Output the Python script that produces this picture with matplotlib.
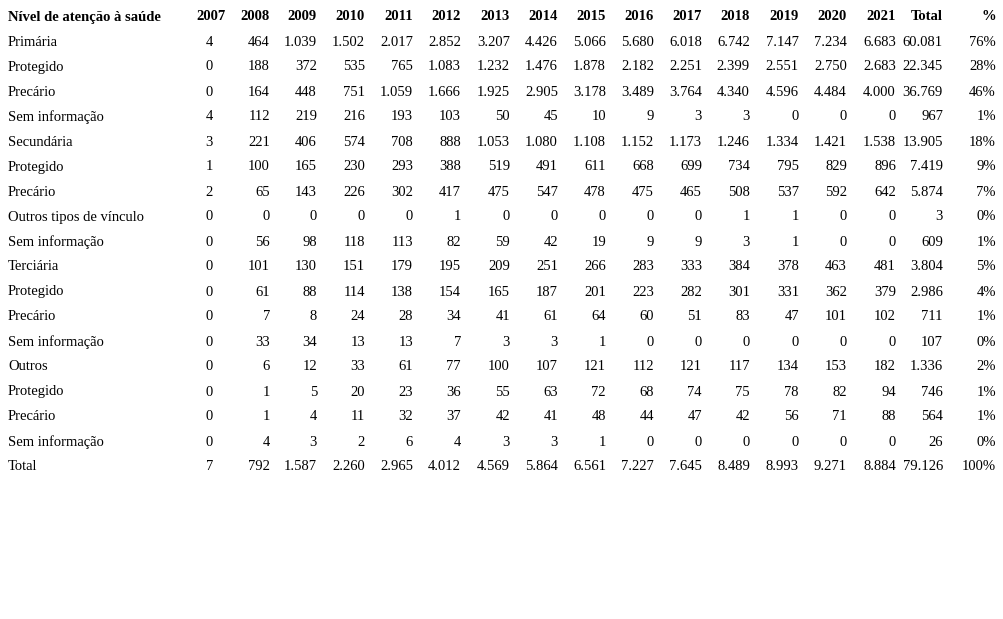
import matplotlib
matplotlib.use("Agg")
import matplotlib.pyplot as plt

header = ["Nível de atenção à saúde", "2007", "2008", "2009", "2010", "2011", "2012", "2013",
          "2014", "2015", "2016", "2017", "2018", "2019", "2020", "2021", "Total", "%"]
labels = ["Primária", "Protegido", "Precário", "Sem informação", "Secundária", "Protegido",
          "Precário", "Outros tipos de vínculo", "Sem informação", "Terciária", "Protegido",
          "Precário", "Sem informação", "Outros", "Protegido", "Precário", "Sem informação", "Total"]
values = [
    ["4","464","1.039","1.502","2.017","2.852","3.207","4.426","5.066","5.680","6.018","6.742","7.147","7.234","6.683","60.081","76%"],
    ["0","188","372","535","765","1.083","1.232","1.476","1.878","2.182","2.251","2.399","2.551","2.750","2.683","22.345","28%"],
    ["0","164","448","751","1.059","1.666","1.925","2.905","3.178","3.489","3.764","4.340","4.596","4.484","4.000","36.769","46%"],
    ["4","112","219","216","193","103","50","45","10","9","3","3","0","0","0","967","1%"],
    ["3","221","406","574","708","888","1.053","1.080","1.108","1.152","1.173","1.246","1.334","1.421","1.538","13.905","18%"],
    ["1","100","165","230","293","388","519","491","611","668","699","734","795","829","896","7.419","9%"],
    ["2","65","143","226","302","417","475","547","478","475","465","508","537","592","642","5.874","7%"],
    ["0","0","0","0","0","1","0","0","0","0","0","1","1","0","0","3","0%"],
    ["0","56","98","118","113","82","59","42","19","9","9","3","1","0","0","609","1%"],
    ["0","101","130","151","179","195","209","251","266","283","333","384","378","463","481","3.804","5%"],
    ["0","61","88","114","138","154","165","187","201","223","282","301","331","362","379","2.986","4%"],
    ["0","7","8","24","28","34","41","61","64","60","51","83","47","101","102","711","1%"],
    ["0","33","34","13","13","7","3","3","1","0","0","0","0","0","0","107","0%"],
    ["0","6","12","33","61","77","100","107","121","112","121","117","134","153","182","1.336","2%"],
    ["0","1","5","20","23","36","55","63","72","68","74","75","78","82","94","746","1%"],
    ["0","1","4","11","32","37","42","41","48","44","47","42","56","71","88","564","1%"],
    ["0","4","3","2","6","4","3","3","1","0","0","0","0","0","0","26","0%"],
    ["7","792","1.587","2.260","2.965","4.012","4.569","5.864","6.561","7.227","7.645","8.489","8.993","9.271","8.884","79.126","100%"],
]

W, H = 1004, 619
fig = plt.figure(figsize=(W/100, H/100), dpi=100)
ax = fig.add_axes([0, 0, 1, 1])
ax.set_xlim(0, W); ax.set_ylim(H, 0); ax.axis("off")
plt.rcParams["font.family"] = ["Liberation Serif", "DejaVu Serif"]

col_x = [226, 270, 317, 365, 413, 461, 510, 558, 606, 654, 702, 750, 799, 847, 896, 943, 996]
val_x = [213] + col_x[1:]
fs = 10.5
y0, dy = 17, 25
ax.text(8, y0, header[0], ha="left", va="center", fontsize=fs, fontweight="bold")
for j, h in enumerate(header[1:]):
    ax.text(col_x[j], y0, h, ha="right", va="center", fontsize=fs, fontweight="bold")
for i, (lab, row) in enumerate(zip(labels, values)):
    y = y0 + dy * (i + 1)
    ax.text(8, y, lab, ha="left", va="center", fontsize=fs)
    for j, v in enumerate(row):
        ax.text(val_x[j], y, v, ha="right", va="center", fontsize=fs)

fig.savefig("out.png", dpi=100, facecolor="white")
